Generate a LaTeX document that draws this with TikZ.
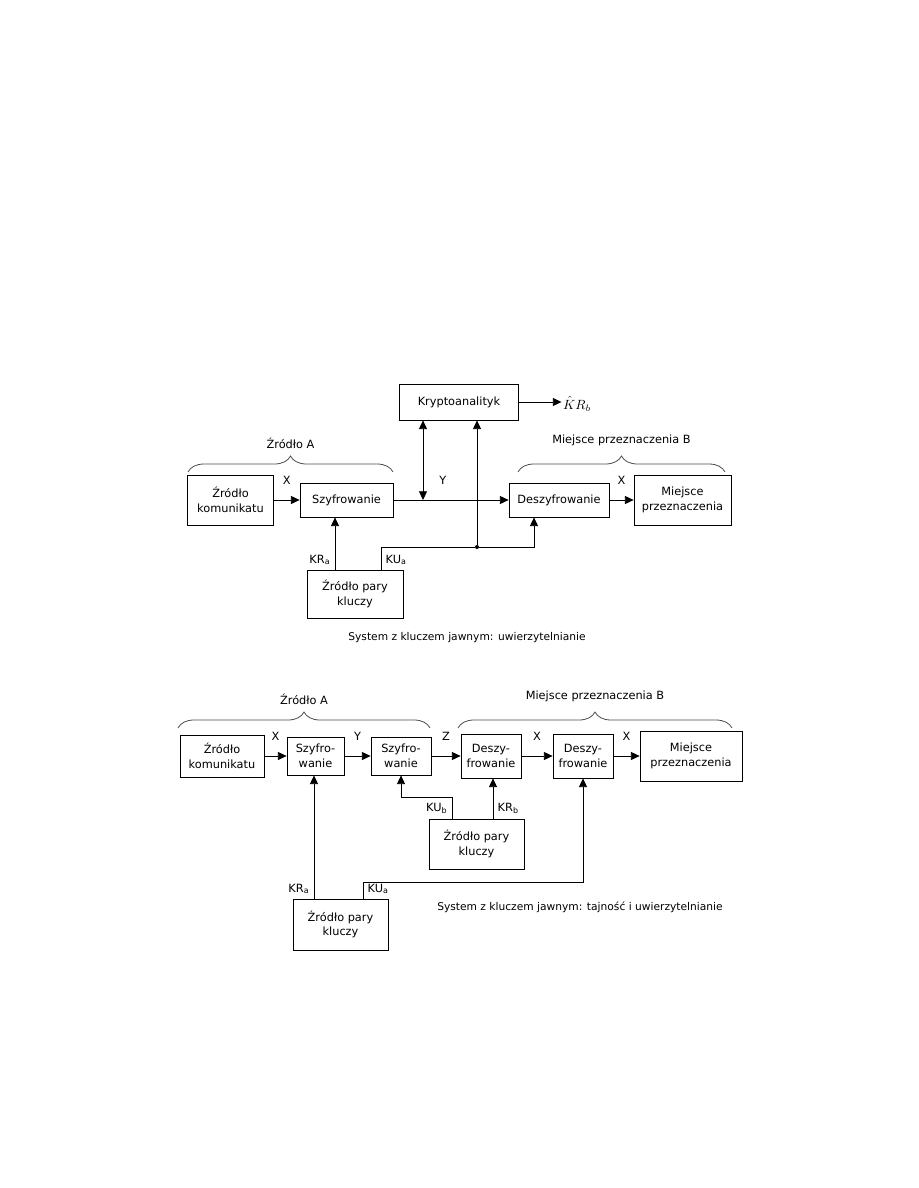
\documentclass[tikz,border=0pt]{standalone}
\usepackage{fontspec}
\setmainfont{DejaVu Sans}
\usepackage{tikz}
\usetikzlibrary{arrows.meta,positioning,calc,decorations.pathreplacing}

\begin{document}
\begin{tikzpicture}[
x=0.75pt,y=-0.75pt,
font=\fontsize{8.5}{11}\selectfont,
box/.style 2 args={draw,line width=0.6pt,align=center,inner sep=0pt,minimum width=#1*0.75pt,minimum height=#2*0.75pt},
arr/.style={-{Triangle[length=6.5pt,width=6pt]},line width=0.6pt},
both/.style={{Triangle[length=6.5pt,width=6pt]}-{Triangle[length=6.5pt,width=6pt]},line width=0.6pt},
brc/.style={decorate,decoration={brace,amplitude=12pt},draw=black!70,line width=0.6pt},
caption/.style={font=\fontsize{8}{10}\selectfont},
dot/.style={circle,fill,inner sep=0pt,minimum size=3pt}
]
\useasboundingbox (0,0) rectangle (918,1188);

% --- uwierzytelnianie
\node[box={119}{36}] (ka) at (459,402) {Kryptoanalityk};
\node[inner sep=1pt] (khat) at (577,404) {\fontsize{10}{12}\selectfont$\hat{K}R_b$};
\node[box={86}{50}] (src) at (230.5,500) {Źródło\\komunikatu};
\node[box={93}{34}] (enc) at (346.5,500) {Szyfrowanie};
\node[box={100}{34}] (dec) at (559,500) {Deszyfrowanie};
\node[box={97}{50}] (dst) at (682.5,500) {Miejsce\\przeznaczenia};
\node[box={96}{48}] (keys) at (355,594) {Źródło pary\\kluczy};
\node[caption] (capA) at (467,638) {System z kluczem jawnym: uwierzytelnianie};
\coordinate (tap) at (423,500);
\node[dot] (fork) at (477,547) {};

\draw[brc] (188,472) -- node[above=14pt]{Źródło A} (393,472);
\draw[brc] (518,472) -- node[above=16pt]{Miejsce przeznaczenia B} (725,472);

\draw[arr] (ka.east) -- (ka.east -| khat.west);
\draw[arr] (src) -- node[above=8pt]{X} (enc);
\draw[arr] (enc) -- node[pos=.43,above=8pt]{Y} (dec);
\draw[arr] (dec) -- node[above=8pt]{X} (dst);
\draw[both] (tap |- ka.south) -- (tap);
\draw[arr] (fork) -- (fork |- ka.south);
\draw[arr] ($(keys.north)+(-20,0)$) coordinate (krA) -- (krA |- enc.south);
\draw[arr] ($(keys.north)+(26,0)$) coordinate (kuA) |- (fork) -| ($(dec.south)+(-25,0)$);
\node[anchor=south east] at (krA) {KR\textsubscript{a}};
\node[anchor=south west] at (kuA) {KU\textsubscript{a}};

% --- tajnosc i uwierzytelnianie
\node[box={84}{42}] (src2) at (222,756) {Źródło\\komunikatu};
\node[box={57}{38}] (enc1) at (315.5,756) {Szyfro-\\wanie};
\node[box={60}{38}] (enc2) at (401,756) {Szyfro-\\wanie};
\node[box={60}{44}] (dec1) at (491,756) {Deszy-\\frowanie};
\node[box={60}{44}] (dec2) at (583,756) {Deszy-\\frowanie};
\node[box={102}{50}] (dst2) at (691,756) {Miejsce\\przeznaczenia};
\node[box={95}{50}] (keysM) at (476.5,844) {Źródło pary\\kluczy};
\node[box={95}{51}] (keysB) at (340.5,924.5) {Źródło pary\\kluczy};
\node[caption] (capB) at (580,907) {System z kluczem jawnym: tajność i uwierzytelnianie};

\draw[brc] (178,728) -- node[above=14pt]{Źródło A} (430,728);
\draw[brc] (458,728) -- node[above=16pt]{Miejsce przeznaczenia B} (732,728);

\draw[arr] (src2) -- node[above=8pt]{X} (enc1);
\draw[arr] (enc1) -- node[above=8pt]{Y} (enc2);
\draw[arr] (enc2) -- node[above=8pt]{Z} (dec1);
\draw[arr] (dec1) -- node[above=8pt]{X} (dec2);
\draw[arr] (dec2) -- node[above=8pt]{X} (dst2);
\draw[arr] ($(keysM.north)+(-24.5,0)$) coordinate (kuM) -- ++(0,-21) -| (enc2.south);
\draw[arr] ($(keysM.north)+(16.5,0)$) coordinate (krM) -- (krM |- dec1.south);
\draw[arr] ($(keysB.north)+(-26.5,0)$) coordinate (krB) -- (krB |- enc1.south);
\draw[arr] ($(keysB.north)+(22.5,0)$) coordinate (kuB) -- ++(0,-16) -| (dec2.south);
\node[anchor=south east] at (kuM) {KU\textsubscript{b}};
\node[anchor=south west] at (krM) {KR\textsubscript{b}};
\node[anchor=south east] at (krB) {KR\textsubscript{a}};
\node[anchor=south west] at (kuB) {KU\textsubscript{a}};
\end{tikzpicture}
\end{document}
